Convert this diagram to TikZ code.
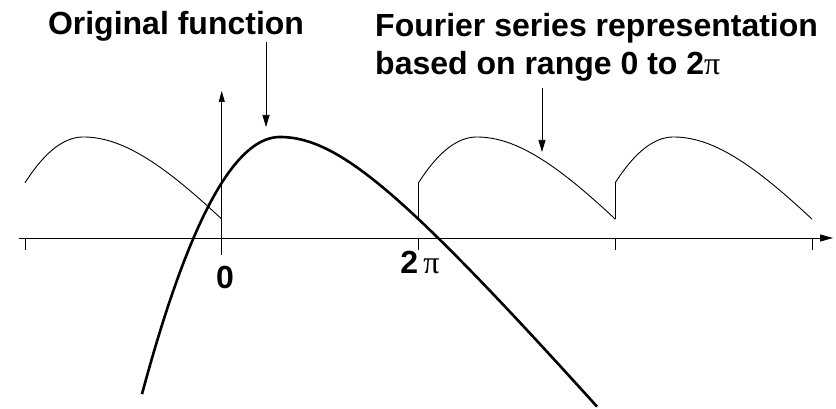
\documentclass[tikz,border=0pt]{standalone}
\usepackage{fontspec}
\setmainfont{Liberation Sans}
\newfontfamily\serifg{Liberation Serif}
\usetikzlibrary{arrows.meta}
\pgfmathdeclarefunction{fy}{1}{%
  \pgfmathparse{137 + ((#1<280) ? (135*((#1-280)/100)^2) : (116*(sqrt(1+((#1-280)/100)^2)-1)))}%
}
\tikzset{
  thinline/.style={line width=0.9pt, black},
  thickline/.style={line width=2.6pt, black},
  pointer/.style={line width=0.7pt, black, -{Triangle[length=12pt,width=7pt]}},
  ticks/.style={line width=0.7pt, black},
  lbl/.style={font=\fontsize{32}{38}\selectfont\bfseries, inner sep=0pt},
}
\newcommand{\pisym}{{\mdseries\serifg π}}
\begin{document}
\begin{tikzpicture}[x=1pt,y=-1pt]
\useasboundingbox (0,0) rectangle (836,409);
% axis
\coordinate (axL) at (19,238);
\coordinate (axR) at (833,238);
\draw[line width=0.9pt, -{Triangle[length=13pt,width=7pt]}] (axL) -- (axR);
% ticks
\foreach \tx in {25,418.5,615.25,812}{
  \draw[ticks] (\tx,238) -- (\tx,250);
}
% vertical axis arrow at 0
\coordinate (vb) at (221.75,255);
\coordinate (vt) at (221.75,91);
\draw[pointer, -{Triangle[length=11pt,width=6pt]}] (vb) -- (vt);
% periodic thin copies
\foreach \k in {-1,0,1,2}{
  \begin{scope}[shift={(\k*196.75,0)}]
    \draw[thinline] plot[domain=221.75:418.5, samples=80, variable=\x] (\x,{fy(\x)});
  \end{scope}
}
% jumps
\draw[thinline] (418.5,{fy(418.5)}) -- (418.5,{fy(221.75)});
\draw[thinline] (615.25,{fy(418.5)}) -- (615.25,{fy(221.75)});
% original function
\draw[thickline] plot[domain=142:597, samples=160, variable=\x] (\x,{fy(\x)});
% labels
\node[lbl, anchor=base] (orig) at (176,35) {Original function};
\node[lbl, anchor=base west, align=left] (four) at (375,75) {Fourier series representation\\based on range 0 to 2\pisym};
\node[lbl, anchor=base] (zero) at (225,288) {0};
\node[lbl, anchor=base] (twopi) at (420,273) {2\,\pisym};
% pointers
\coordinate (o1) at (266,42);
\coordinate (o2) at (266,127);
\draw[pointer] (o1) -- (o2);
\coordinate (f1) at (542,88);
\coordinate (f2) at (542,152);
\draw[pointer] (f1) -- (f2);
\end{tikzpicture}
\end{document}
